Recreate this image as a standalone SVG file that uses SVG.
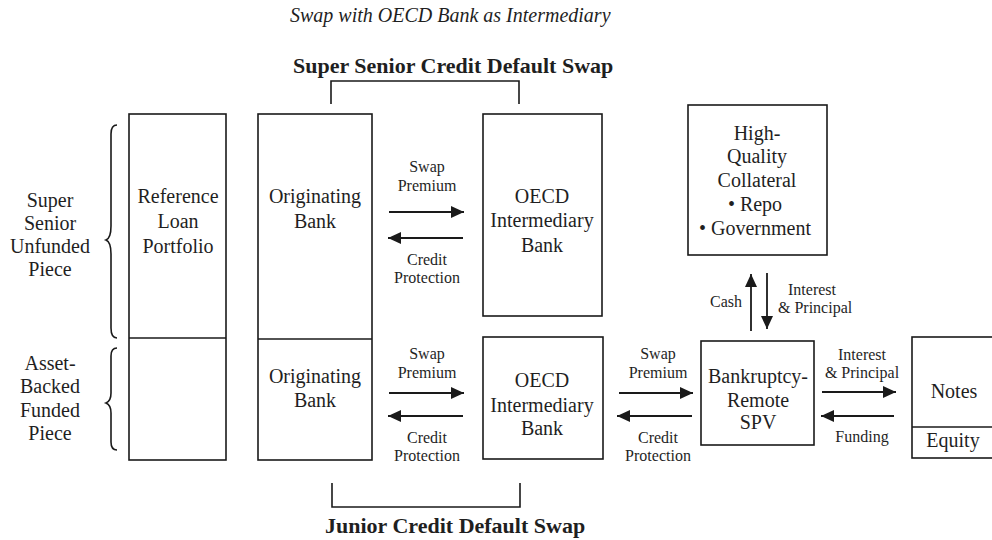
<svg xmlns="http://www.w3.org/2000/svg" width="992" height="540" viewBox="0 0 992 540">
<defs>
<marker id="ah" markerUnits="userSpaceOnUse" markerWidth="14" markerHeight="14" refX="13" refY="7" orient="auto">
<path d="M0,1 L13,7 L0,13 Z" fill="#1a1a1a"/>
</marker>
<style>
.box{fill:#fff;stroke:#1a1a1a;stroke-width:1.6}
.ln{fill:none;stroke:#1a1a1a;stroke-width:1.6}
.arr{fill:none;stroke:#1a1a1a;stroke-width:1.8;marker-end:url(#ah)}
text{font-family:"Liberation Serif","Times New Roman",serif;fill:#1f1f1f}
.b{font-size:20px;text-anchor:middle}
.s{font-size:16px;text-anchor:middle}
.se{font-size:16px;text-anchor:end}
.ss{font-size:16px;text-anchor:start}
.h{font-size:22px;font-weight:bold}
</style>
</defs>
<rect width="992" height="540" fill="#fff"/>
<text x="290" y="22" font-size="20" font-style="italic">Swap with OECD Bank as Intermediary</text>
<g id="super-senior-cds">
<text class="h" x="293" y="73">Super Senior Credit Default Swap</text>
<path class="ln" d="M331,104 V81 H519 V104"/>
</g>
<g id="junior-cds">
<path class="ln" d="M332,483 V507 H520 V483"/>
<text class="h" x="325" y="533">Junior Credit Default Swap</text>
</g>
<g id="super-senior-piece">
<path class="ln" d="M117,125 Q111,125 111,134 V226 Q111,238 106,240 Q111,242 111,254 V328 Q111,338 117,338"/>
<text class="b" x="50" y="207">Super</text>
<text class="b" x="50" y="230">Senior</text>
<text class="b" x="50" y="253">Unfunded</text>
<text class="b" x="50" y="276">Piece</text>
</g>
<g id="asset-backed-piece">
<path class="ln" d="M117,348 Q111,348 111,356 V393 Q111,401 106,403 Q111,405 111,413 V442 Q111,450 117,450"/>
<text class="b" x="50" y="370">Asset-</text>
<text class="b" x="50" y="393">Backed</text>
<text class="b" x="50" y="417">Funded</text>
<text class="b" x="50" y="440">Piece</text>
</g>
<g id="reference-loan-portfolio">
<rect class="box" x="129" y="114" width="97" height="346"/>
<line class="ln" x1="129" y1="338" x2="226" y2="338"/>
<text class="b" x="178" y="203">Reference</text>
<text class="b" x="178" y="228">Loan</text>
<text class="b" x="178" y="253">Portfolio</text>
</g>
<g id="originating-bank">
<rect class="box" x="258" y="114" width="114" height="346"/>
<line class="ln" x1="258" y1="339" x2="372" y2="339"/>
<text class="b" x="315" y="203">Originating</text>
<text class="b" x="315" y="228">Bank</text>
<text class="b" x="315" y="383">Originating</text>
<text class="b" x="315" y="407">Bank</text>
</g>
<g id="oecd-bank-top">
<rect class="box" x="483" y="114" width="119" height="202"/>
<text class="b" x="542" y="203">OECD</text>
<text class="b" x="542" y="227">Intermediary</text>
<text class="b" x="542" y="252">Bank</text>
</g>
<g id="oecd-bank-bottom">
<rect class="box" x="483" y="337" width="120" height="122"/>
<text class="b" x="542" y="387">OECD</text>
<text class="b" x="542" y="412">Intermediary</text>
<text class="b" x="542" y="435">Bank</text>
</g>
<g id="collateral">
<rect class="box" x="688" y="105" width="139" height="150"/>
<text class="b" x="757" y="140">High-</text>
<text class="b" x="757" y="163">Quality</text>
<text class="b" x="757" y="187">Collateral</text>
<text class="b" x="755" y="211">• Repo</text>
<text class="b" x="755" y="235">• Government</text>
</g>
<g id="spv">
<rect class="box" x="701" y="341" width="113" height="104"/>
<text class="b" x="758" y="383">Bankruptcy-</text>
<text class="b" x="758" y="407">Remote</text>
<text class="b" x="758" y="429">SPV</text>
</g>
<g id="notes-equity">
<rect class="box" x="912" y="337" width="90" height="121"/>
<line class="ln" x1="912" y1="427" x2="1002" y2="427"/>
<text class="b" x="954" y="398">Notes</text>
<text class="b" x="953" y="447">Equity</text>
</g>
<g id="connectors">
<line class="arr" x1="389" y1="212" x2="464" y2="212"/>
<line class="arr" x1="463" y1="238" x2="388" y2="238"/>
<line class="arr" x1="389" y1="393" x2="464" y2="393"/>
<line class="arr" x1="463" y1="416" x2="388" y2="416"/>
<line class="arr" x1="619" y1="393" x2="693" y2="393"/>
<line class="arr" x1="692" y1="416" x2="617" y2="416"/>
<line class="arr" x1="822" y1="392" x2="896" y2="392"/>
<line class="arr" x1="894" y1="416" x2="821" y2="416"/>
<line class="arr" x1="751" y1="331" x2="751" y2="274"/>
<line class="arr" x1="767" y1="273" x2="767" y2="329"/>
<text class="s" x="427" y="172">Swap</text>
<text class="s" x="427" y="191">Premium</text>
<text class="s" x="427" y="265">Credit</text>
<text class="s" x="427" y="283">Protection</text>
<text class="s" x="427" y="359">Swap</text>
<text class="s" x="427" y="378">Premium</text>
<text class="s" x="427" y="443">Credit</text>
<text class="s" x="427" y="461">Protection</text>
<text class="s" x="658" y="359">Swap</text>
<text class="s" x="658" y="378">Premium</text>
<text class="s" x="658" y="443">Credit</text>
<text class="s" x="658" y="461">Protection</text>
<text class="s" x="862" y="360">Interest</text>
<text class="s" x="862" y="378">&amp; Principal</text>
<text class="s" x="862" y="442">Funding</text>
<text class="se" x="742" y="307">Cash</text>
<text class="ss" x="788" y="295">Interest</text>
<text class="ss" x="778" y="313">&amp; Principal</text>
</g>
</svg>
